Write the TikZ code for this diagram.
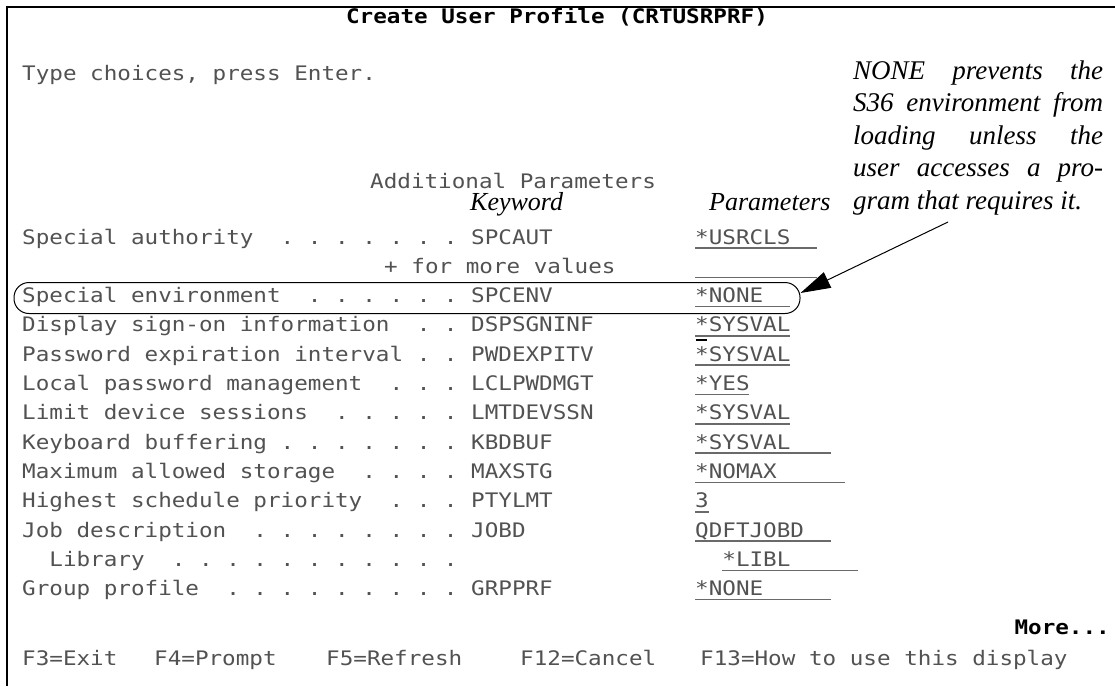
\documentclass[tikz,border=0pt]{standalone}
\usepackage{fontspec}
\usepackage{graphicx}
\setmainfont{Liberation Serif}
\newfontfamily\scrfont{DejaVu Sans Mono}
\usetikzlibrary{arrows.meta}
\definecolor{scrgray}{HTML}{525252}
\definecolor{ulgray}{HTML}{6A6A6A}
\newcommand{\scrtxt}[1]{\scalebox{1.13}[1]{\scrfont\fontsize{20}{24}\selectfont #1}}
\newcommand{\scrbold}[1]{\scalebox{1.13}[1]{\scrfont\bfseries\fontsize{20}{24}\selectfont #1}}
\newlength{\annw}
\setlength{\annw}{250pt}
\newcommand{\jline}[1]{\makebox[\annw][s]{#1}}
\begin{document}
\begin{tikzpicture}[x=1pt,y=-1pt,
  scr/.style={inner sep=0pt, anchor=base west, text=scrgray},
  scrbk/.style={inner sep=0pt, text=black},
  ul/.style={draw=ulgray, line width=1.6pt},
  ann/.style={inner sep=0pt, anchor=base west, font=\fontsize{27}{32}\selectfont\itshape},
  hdr/.style={inner sep=0pt, anchor=base west, font=\fontsize{26}{30}\selectfont\itshape},
  ovalbox/.style={draw, line width=1pt, rounded corners=15pt, minimum width=786pt, minimum height=31pt, inner sep=0pt},
  pointer/.style={line width=1pt, -{Triangle[length=30pt, width=17pt]}}]
\useasboundingbox (0,0) rectangle (1115,686);
\fill[white] (0,0) rectangle (1115,686);
\draw[line width=1.5pt] (1115,7) -- (7,7) -- (7,686);

% title and header
\node[scrbk, anchor=base] (title) at (557,23) {\scrbold{Create~User~Profile~(CRTUSRPRF)}};
\node[scr] (type) at (22,80) {\scrtxt{Type~choices,~press~Enter.}};
\node[scr] (addl) at (370,188) {\scrtxt{Additional~Parameters}};
\node[hdr] (hkw) at (470,210) {Keyword};
\node[hdr] (hpar) at (709,210) {Parameters};

% labels
\node[scr] (l0) at (22,244) {\scrtxt{Special~authority~~.~.~.~.~.~.~.}};
\node[scr] (l1) at (384,273.3) {\scrtxt{+~for~more~values}};
\node[scr] (l2) at (22,302.6) {\scrtxt{Special~environment~~.~.~.~.~.~.}};
\node[scr] (l3) at (22,331.9) {\scrtxt{Display~sign-on~information~~.~.}};
\node[scr] (l4) at (22,361.2) {\scrtxt{Password~expiration~interval~.~.}};
\node[scr] (l5) at (22,390.5) {\scrtxt{Local~password~management~~.~.~.}};
\node[scr] (l6) at (22,419.8) {\scrtxt{Limit~device~sessions~~.~.~.~.~.}};
\node[scr] (l7) at (22,449.1) {\scrtxt{Keyboard~buffering~.~.~.~.~.~.~.}};
\node[scr] (l8) at (22,478.4) {\scrtxt{Maximum~allowed~storage~~.~.~.~.}};
\node[scr] (l9) at (22,507.7) {\scrtxt{Highest~schedule~priority~~.~.~.}};
\node[scr] (l10) at (22,537) {\scrtxt{Job~description~~.~.~.~.~.~.~.~.}};
\node[scr] (l11) at (22,566.3) {\scrtxt{~~Library~~.~.~.~.~.~.~.~.~.~.~.}};
\node[scr] (l12) at (22,595.6) {\scrtxt{Group~profile~~.~.~.~.~.~.~.~.~.}};

% keywords
\node[scr] (k0) at (471,244) {\scrtxt{SPCAUT}};
\node[scr] (k2) at (471,302.6) {\scrtxt{SPCENV}};
\node[scr] (k3) at (471,331.9) {\scrtxt{DSPSGNINF}};
\node[scr] (k4) at (471,361.2) {\scrtxt{PWDEXPITV}};
\node[scr] (k5) at (471,390.5) {\scrtxt{LCLPWDMGT}};
\node[scr] (k6) at (471,419.8) {\scrtxt{LMTDEVSSN}};
\node[scr] (k7) at (471,449.1) {\scrtxt{KBDBUF}};
\node[scr] (k8) at (471,478.4) {\scrtxt{MAXSTG}};
\node[scr] (k9) at (471,507.7) {\scrtxt{PTYLMT}};
\node[scr] (k10) at (471,537) {\scrtxt{JOBD}};
\node[scr] (k12) at (471,595.6) {\scrtxt{GRPPRF}};

% values
\node[scr] (v0) at (695,244) {\scrtxt{*USRCLS}};
\coordinate (v1) at (695,273.3);
\node[scr] (v2) at (695,302.6) {\scrtxt{*NONE}};
\node[scr] (v3) at (695,331.9) {\scrtxt{*SYSVAL}};
\node[scr] (v4) at (695,361.2) {\scrtxt{*SYSVAL}};
\node[scr] (v5) at (695,390.5) {\scrtxt{*YES}};
\node[scr] (v6) at (695,419.8) {\scrtxt{*SYSVAL}};
\node[scr] (v7) at (695,449.1) {\scrtxt{*SYSVAL}};
\node[scr] (v8) at (695,478.4) {\scrtxt{*NOMAX}};
\node[scr] (v9) at (695,507.7) {\scrtxt{3}};
\node[scr] (v10) at (695,537) {\scrtxt{QDFTJOBD}};
\node[scr] (v11) at (722.2,566.3) {\scrtxt{*LIBL}};
\node[scr] (v12) at (695,595.6) {\scrtxt{*NONE}};

% underlines of input fields
\draw[ul] ([yshift=-4pt]v0.base west) -- ++(122.4,0);
\draw[ul] ([yshift=-4pt]v1) -- ++(122.4,0);
\draw[ul] ([yshift=-4pt]v2.base west) -- ++(95.2,0);
\draw[ul] ([yshift=-4pt]v3.base west) -- ++(95.2,0);
\draw[ul] ([yshift=-4pt]v4.base west) -- ++(95.2,0);
\draw[ul] ([yshift=-4pt]v5.base west) -- ++(54.4,0);
\draw[ul] ([yshift=-4pt]v6.base west) -- ++(95.2,0);
\draw[ul] ([yshift=-4pt]v7.base west) -- ++(136,0);
\draw[ul] ([yshift=-4pt]v8.base west) -- ++(149.6,0);
\draw[ul] ([yshift=-4pt]v9.base west) -- ++(13.6,0);
\draw[ul] ([yshift=-4pt]v10.base west) -- ++(136,0);
\draw[ul] ([yshift=-4pt]v11.base west) -- ++(136,0);
\draw[ul] ([yshift=-4pt]v12.base west) -- ++(136,0);
% cursor
\draw[line width=2.5pt, black] ([xshift=1pt,yshift=-8pt]v3.base west) -- ++(11,0);

% footer
\node[scrbk, anchor=base east] (more) at (1110,634) {\scrbold{More...}};
\node[scr] (f3) at (22,665) {\scrtxt{F3=Exit}};
\node[scr] (f4) at (154,665) {\scrtxt{F4=Prompt}};
\node[scr] (f5) at (326,665) {\scrtxt{F5=Refresh}};
\node[scr] (f12) at (520,665) {\scrtxt{F12=Cancel}};
\node[scr] (f13) at (700,665) {\scrtxt{F13=How~to~use~this~display}};

% highlight and annotation
\node[ovalbox] (oval) at (407,298) {};
\node[ann] (a1) at (853,79) {\jline{NONE prevents the}};
\node[ann] (a2) at (853,111.5) {\jline{S36 environment from}};
\node[ann] (a3) at (853,144) {\jline{loading unless the}};
\node[ann] (a4) at (853,176.5) {\jline{user accesses a pro-}};
\node[ann] (a5) at (853,209) {gram that requires it.};
\coordinate (tail) at (948,222);
\draw[pointer] (tail) -- ([yshift=5pt]oval.east);
\end{tikzpicture}
\end{document}
